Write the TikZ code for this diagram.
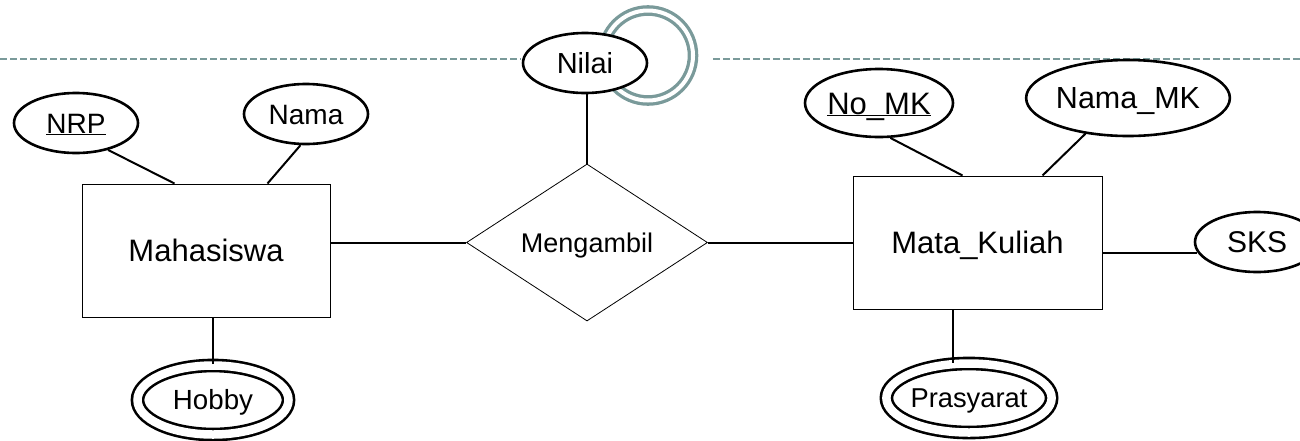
\documentclass[tikz,border=0pt]{standalone}
\usepackage{fontspec}
\setmainfont{Liberation Sans}
\usetikzlibrary{shapes.geometric,calc}
\definecolor{ringcol}{RGB}{122,154,154}
\newcommand{\fsz}[1]{\fontsize{#1}{#1}\selectfont}
\begin{document}
\begin{tikzpicture}[x=1pt,y=-1pt,
  fs/.code={\pgfmathsetmacro\mycaph{0.716*#1}%
    \edef\mytmp{\noexpand\tikzset{font=\noexpand\fsz{#1},text height=\mycaph pt,text depth=0pt}}\mytmp},
  attr/.style={ellipse,draw,line width=2.6pt,fill=white,inner sep=0pt},
  multi/.style={attr,double=white,double distance=8.5pt,
    minimum width=151pt,minimum height=69pt},
  entity/.style={rectangle,draw,line width=1pt,inner sep=0pt,
    minimum width=248pt,minimum height=133pt,fs=31},
  rel/.style={diamond,draw,line width=0.8pt,inner sep=0pt,
    minimum width=241pt,minimum height=157pt,fs=27},
  conn/.style={line width=2pt},
  dashline/.style={ringcol,line width=1.5pt,dash pattern=on 7pt off 3pt}]
\useasboundingbox (0,0) rectangle (1300,440);
\clip (0,0) rectangle (1300,440);

% decoration
\draw[dashline] (0,59) -- (521,59);
\draw[dashline] (713,59) -- (1300,59);
\draw[ringcol,line width=3.3pt,double=white,double distance=4pt] (648,55.5) circle[radius=45pt];

% entities and relationship
\node[entity] (Mh) at (206,250.5) {Mahasiswa};
\node[entity,minimum width=249pt] (MK) at (977.5,242.5) {Mata\_Kuliah};
\node[rel] (Mg) at (587,242.5) {Mengambil};

% attributes
\node[attr,minimum width=124pt,minimum height=60pt,fs=28] (NRP) at (76,123) {\underline{NRP}};
\node[attr,minimum width=124pt,minimum height=60pt,fs=28] (Nama) at (306,114) {Nama};
\node[attr,minimum width=124pt,minimum height=60pt,fs=29] (Nilai) at (585,63) {Nilai};
\node[attr,minimum width=148pt,minimum height=68pt,fs=31] (NoMK) at (879,103) {\underline{\smash{No\_MK}}};
\node[attr,minimum width=196pt,minimum height=76pt,fs=30.5] (NamaMK) at (1128,98) {Nama\_MK};
\node[attr,minimum width=124pt,minimum height=60pt,fs=30] (SKS) at (1257,242) {SKS};
\node[multi,fs=27.7] (Hobby) at (213,400) {Hobby};
\node[multi,fs=27.3] (Pras) at (969,398) {Prasyarat};

% connectors
\draw[conn] (NRP.-40) -- ($(Mh.north west)+(93,0)$);
\draw[conn] (Nama.-100) -- ($(Mh.north west)+(186,0)$);
\draw[conn] (Hobby.north) -- (Hobby.north |- Mh.south);
\draw[conn] (Mh.east |- Mg.west) -- (Mg.west);
\draw[conn] (Mg.east) -- (Mg.east -| MK.west);
\draw[conn] (Mg.north |- Nilai.south) -- (Mg.north);
\draw[conn] (NoMK.-72) -- ($(MK.north west)+(110,0)$);
\draw[conn] (NamaMK.-140) -- ($(MK.north west)+(190,0)$);
\draw[conn] (SKS.-170 -| MK.east) -- (SKS.-170);
\draw[conn] (Pras.114) -- (Pras.114 |- MK.south);
\end{tikzpicture}
\end{document}
